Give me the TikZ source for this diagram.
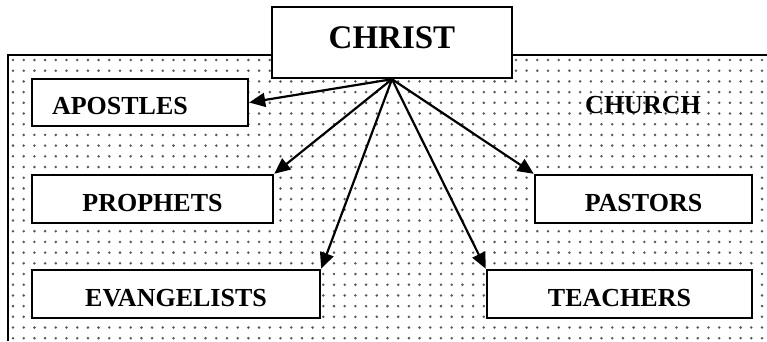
\documentclass[tikz,border=0pt]{standalone}
\usepackage{fontspec}
\setmainfont{Liberation Serif}
\usetikzlibrary{arrows.meta}

\begin{document}
\begin{tikzpicture}[x=1pt,y=-1pt]
  \tikzstyle{box}=[draw,line width=2.4pt,fill=white,inner sep=0pt,
  font=\bfseries\fontsize{26}{28}\selectfont,text height=24pt,text depth=0pt]
  \tikzstyle{arr}=[line width=2.2pt,-{Triangle[length=16pt,width=14pt]}]
  \useasboundingbox (0,0) rectangle (767,341);
  % dotted church area
  \foreach \i in {0,...,70}
    \foreach \j in {0,...,26}
      \fill[black!65] (13+\i*10.7,60+\j*10.7) circle (1.4pt);
  \draw[line width=2.4pt] (8,341) |- (767,55);
  \node[anchor=base,font=\bfseries\fontsize{26}{28}\selectfont](church) at (643,113){CHURCH};
  \node[box,minimum width=240pt,minimum height=71pt,
  font=\bfseries\fontsize{33}{36}\selectfont,text height=21.8pt,text depth=10pt](christ) at (392,42.5){CHRIST};
  \node[box,minimum width=216pt,minimum height=47pt,text width=176pt,inner xsep=20pt,
  align=left](apostles) at (140,102.5){APOSTLES};
  \node[box,minimum width=241pt,minimum height=48pt](prophets) at (152.5,199){PROPHETS};
  \node[box,minimum width=288pt,minimum height=48pt](evangelists) at (176,294){EVANGELISTS};
  \node[box,minimum width=217pt,minimum height=48pt](pastors) at (643.5,199){PASTORS};
  \node[box,minimum width=265pt,minimum height=48pt](teachers) at (619.5,294){TEACHERS};
  \path[draw,arr] (christ.south) -- (apostles.east);
  \path[draw,arr] (christ.south) -- (prophets.north east);
  \path[draw,arr] (christ.south) -- (evangelists.north east);
  \path[draw,arr] (christ.south) -- (pastors.north west);
  \path[draw,arr] (christ.south) -- (teachers.north west);
\end{tikzpicture}
\end{document}
